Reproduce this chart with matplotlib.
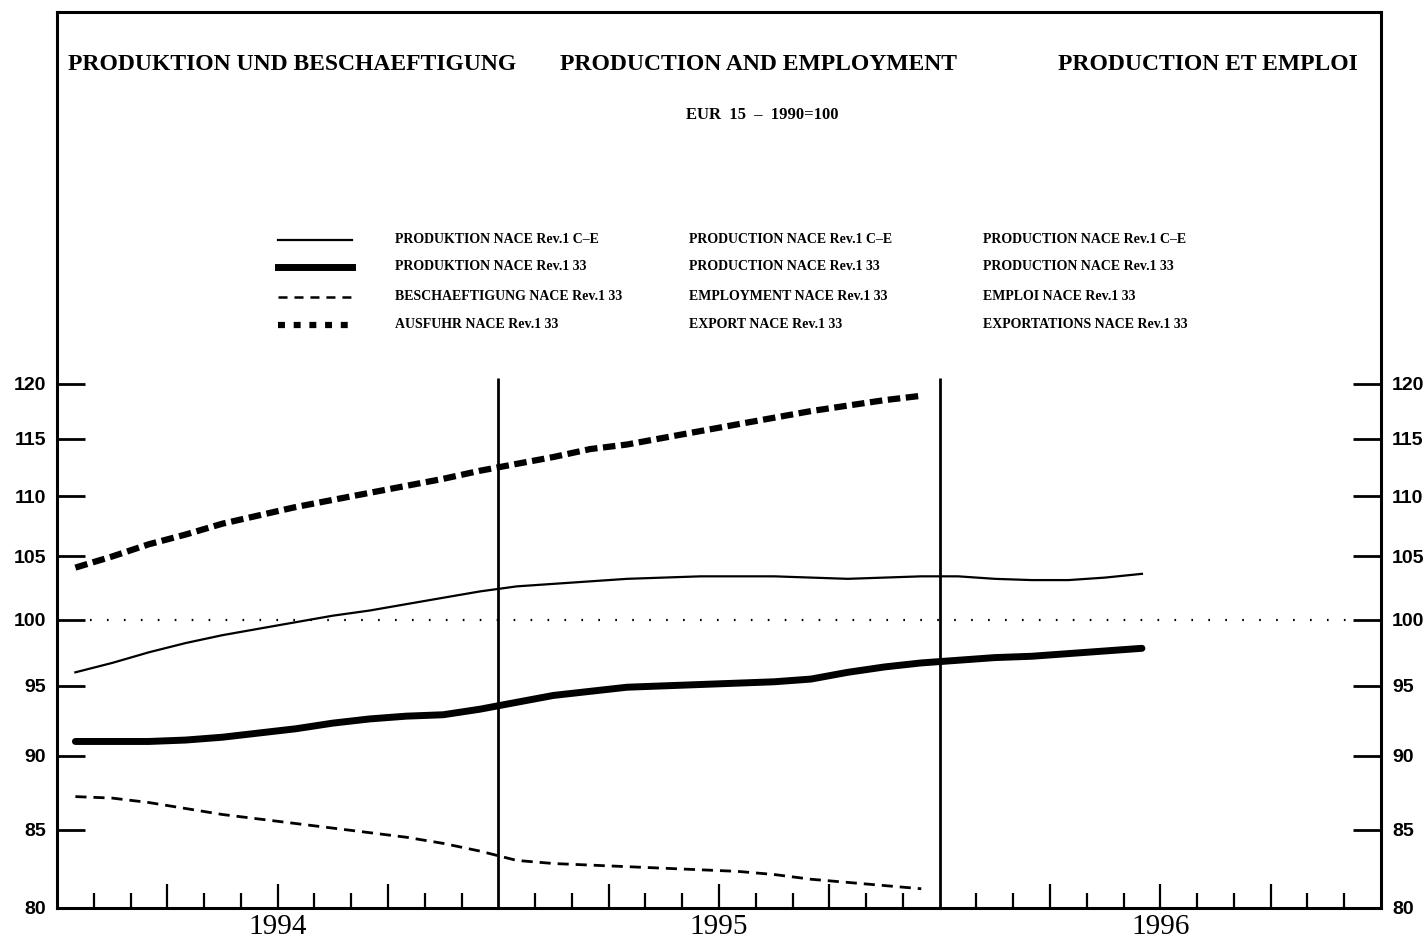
import matplotlib
matplotlib.use("Agg")
import matplotlib.pyplot as plt
from matplotlib.lines import Line2D
import matplotlib.transforms as mtransforms
import numpy as np

plt.rcParams['lines.scale_dashes'] = False

# ---- data (monthly, Jan 1994 = month 0) ----
months_ce = list(range(30))
prod_ce = [96.0, 96.7, 97.5, 98.2, 98.8, 99.3, 99.8, 100.3, 100.7, 101.2, 101.7, 102.2,
           102.6, 102.8, 103.0, 103.2, 103.3, 103.4, 103.4, 103.4, 103.3, 103.2, 103.3, 103.4,
           103.4, 103.2, 103.1, 103.1, 103.3, 103.6]
months_33 = list(range(30))
prod_33 = [91.0, 91.0, 91.0, 91.1, 91.3, 91.6, 91.9, 92.3, 92.6, 92.8, 92.9, 93.3,
           93.8, 94.3, 94.6, 94.9, 95.0, 95.1, 95.2, 95.3, 95.5, 96.0, 96.4, 96.7,
           96.9, 97.1, 97.2, 97.4, 97.6, 97.8]
months_emp = list(range(24))
employment = [87.2, 87.1, 86.8, 86.4, 86.0, 85.7, 85.4, 85.1, 84.8, 84.5, 84.1, 83.6,
              83.0, 82.8, 82.7, 82.6, 82.5, 82.4, 82.3, 82.1, 81.8, 81.6, 81.4, 81.2]
months_exp = list(range(24))
exports = [104.1, 105.0, 106.0, 106.8, 107.7, 108.4, 109.1, 109.7, 110.3, 110.9, 111.5, 112.2,
           112.8, 113.4, 114.1, 114.5, 115.1, 115.7, 116.3, 116.9, 117.5, 118.0, 118.5, 118.9]

years = ["1994", "1995", "1996"]
y_ticks = [80, 85, 90, 95, 100, 105, 110, 115, 120]

titles = ["PRODUKTION UND BESCHAEFTIGUNG", "PRODUCTION AND EMPLOYMENT", "PRODUCTION ET EMPLOI"]
subtitle = "EUR  15  \u2013  1990=100"
legend_de = ["PRODUKTION NACE Rev.1 C\u2013E", "PRODUKTION NACE Rev.1 33",
             "BESCHAEFTIGUNG NACE Rev.1 33", "AUSFUHR NACE Rev.1 33"]
legend_en = ["PRODUCTION NACE Rev.1 C\u2013E", "PRODUCTION NACE Rev.1 33",
             "EMPLOYMENT NACE Rev.1 33", "EXPORT NACE Rev.1 33"]
legend_fr = ["PRODUCTION NACE Rev.1 C\u2013E", "PRODUCTION NACE Rev.1 33",
             "EMPLOI NACE Rev.1 33", "EXPORTATIONS NACE Rev.1 33"]

W, H = 1427, 943
fig = plt.figure(figsize=(W / 100, H / 100), dpi=100)
fig.patch.set_facecolor("white")

L, R, T, B = 57, 1381, 12, 908
ax = fig.add_axes([L / W, (H - B) / H, (R - L) / W, (B - T) / H])
ax.set_yscale("log")
ax.set_ylim(80, 160)
ax.set_xlim(0, 36)
for s in ax.spines.values():
    s.set_linewidth(2.2)
    s.set_color("black")

def xc(m):
    return np.asarray(m) + 0.5

styles = dict(
    ce=dict(color="black", lw=1.6, ls="-"),
    p33=dict(color="black", lw=5.0, ls="-", solid_capstyle="round"),
    emp=dict(color="black", lw=2.0, dashes=(8, 5)),
    exp=dict(color="black", lw=4.5, dashes=(9, 4)),
)

ax.plot(xc(months_ce), prod_ce, **styles["ce"])
ax.plot(xc(months_33), prod_33, **styles["p33"])
ax.plot(xc(months_emp), employment, **styles["emp"])
ax.plot(xc(months_exp), exports, **styles["exp"])

# reference line at 100
ax.axhline(100, xmin=0.025, xmax=0.975, color="black", lw=1.6, dashes=(1.2, 11))
# year separators
ax.vlines([12, 24], 80, 120.5, color="black", lw=2.0)

# y ticks
ax.set_yticks(y_ticks)
ax.set_yticklabels([str(v) for v in y_ticks])
ax.yaxis.set_minor_locator(matplotlib.ticker.NullLocator())
ax.tick_params(axis="y", which="major", direction="in", length=20, width=2.0,
               left=True, right=True, labelleft=True, labelright=True, pad=8)
for lab in ax.get_yticklabels():
    lab.set_fontfamily("Liberation Sans")
    lab.set_fontweight("bold")
    lab.set_fontsize(14)

# x ticks: monthly, longer each quarter
months_all = [m for m in range(1, 36) if m not in (12, 24)]
major = [m for m in months_all if m % 3 == 0]
minor = [m for m in months_all if m % 3 != 0]
ax.set_xticks(major)
ax.set_xticks(minor, minor=True)
ax.set_xticklabels([])
ax.tick_params(axis="x", which="major", direction="in", length=17, width=1.6, bottom=True, top=False)
ax.tick_params(axis="x", which="minor", direction="in", length=11, width=1.6, bottom=True, top=False)

# year labels (x in data coords, y in figure pixels)
year_tr = mtransforms.blended_transform_factory(ax.transData, fig.transFigure)
for i, yr in enumerate(years):
    ax.text(6 + 12 * i, 1 - 934 / H, yr, transform=year_tr, ha="center", va="baseline",
            fontfamily="Liberation Serif", fontsize=21, clip_on=False)

# titles
def fx(px):
    return px / W
def fy(py):
    return 1 - py / H

tkw = dict(fontfamily="Liberation Serif", fontweight="bold", fontsize=17, va="center")
fig.text(fx(68), fy(64), titles[0], ha="left", **tkw)
fig.text(fx(759), fy(64), titles[1], ha="center", **tkw)
fig.text(fx(1358), fy(64), titles[2], ha="right", **tkw)
fig.text(fx(762), fy(115), subtitle, ha="center", va="center",
         fontfamily="Liberation Serif", fontweight="bold", fontsize=12)

# legend
rows = [240, 267, 297, 325]
leg_styles = [
    dict(color="black", lw=1.6, ls="-"),
    dict(color="black", lw=5.0, ls="-"),
    dict(color="black", lw=1.8, dashes=(6.5, 5)),
    dict(color="black", lw=4.5, dashes=(5, 6.3)),
]
lkw = dict(fontfamily="Liberation Serif", fontweight="bold", fontsize=10, va="center", ha="left")
for r, st, de, en, fr in zip(rows, leg_styles, legend_de, legend_en, legend_fr):
    fig.add_artist(Line2D([fx(278), fx(352)], [fy(r), fy(r)], transform=fig.transFigure, **st))
    fig.text(fx(395), fy(r), de, **lkw)
    fig.text(fx(689), fy(r), en, **lkw)
    fig.text(fx(983), fy(r), fr, **lkw)

fig.savefig("out.png", dpi=100, facecolor="white")
